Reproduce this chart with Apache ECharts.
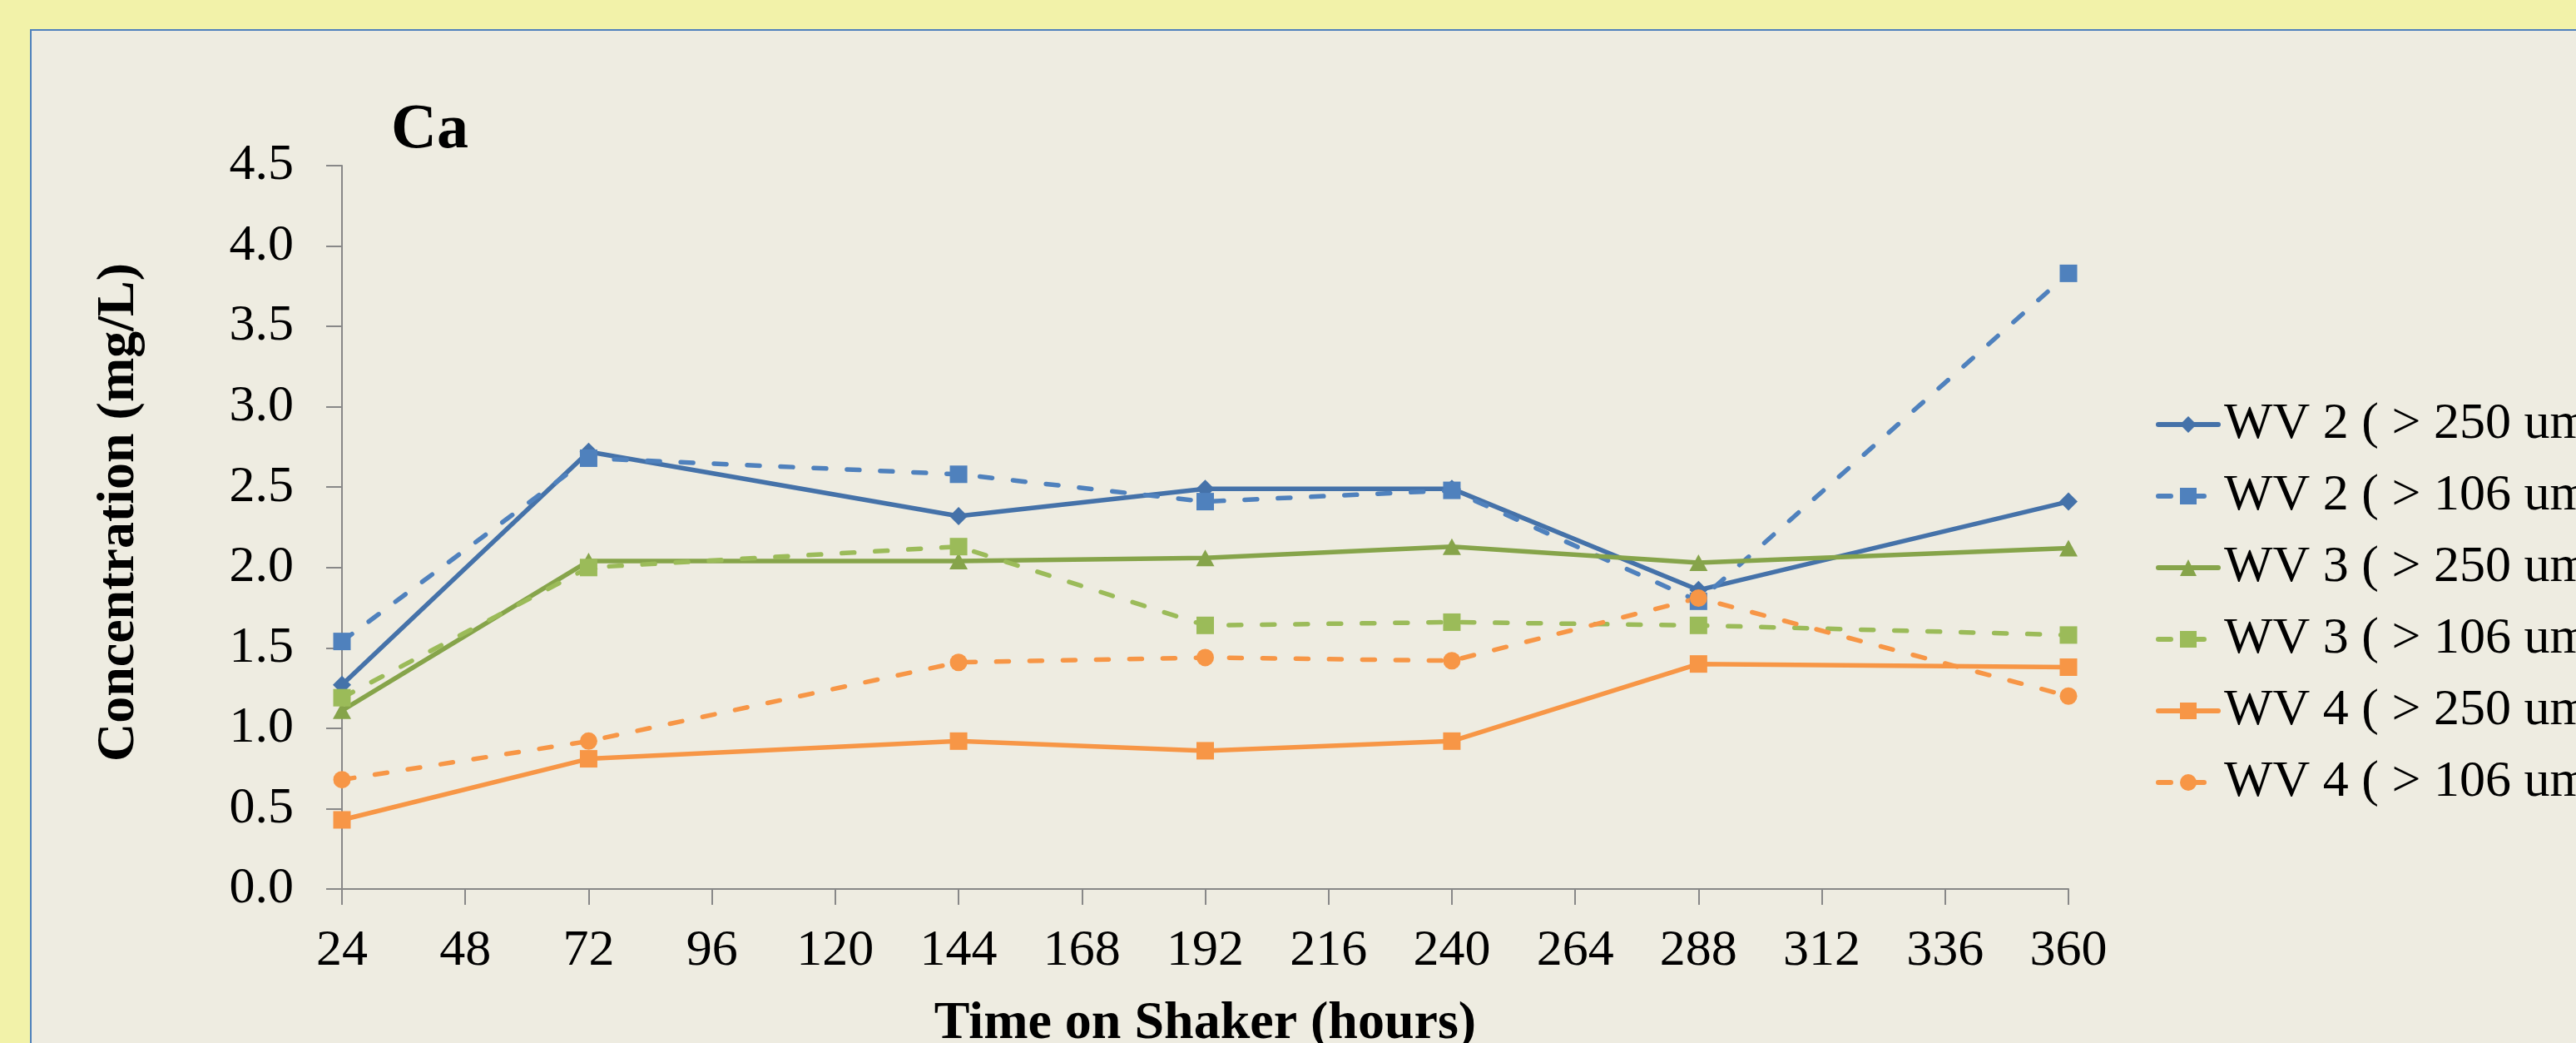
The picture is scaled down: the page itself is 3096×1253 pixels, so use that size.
<!DOCTYPE html>
<html>
<head>
<meta charset="utf-8">
<script src="https://cdn.jsdelivr.net/npm/echarts@6/dist/echarts.min.js"></script>
<style>
  html, body { margin: 0; padding: 0; background: #F2F2A9; }
  #chart { width: 3096px; height: 1253px; }
</style>
</head>
<body>
<div id="chart"></div>
<script>
  // hours on shaker
  var hours = [24, 72, 144, 192, 240, 288, 360]
  var seriesNames = [
    'WV 2 ( > 250 um)',
    'WV 2 ( > 106 um)',
    'WV 3 ( > 250 um)',
    'WV 3 ( > 106 um)',
    'WV 4 ( > 250 um)',
    'WV 4 ( > 106 um)'
  ]
  // Ca concentration (mg/L)
  var wv2_250 = [1.27, 2.72, 2.32, 2.49, 2.49, 1.86, 2.41]
  var wv2_106 = [1.54, 2.68, 2.58, 2.41, 2.48, 1.79, 3.83]
  var wv3_250 = [1.11, 2.04, 2.04, 2.06, 2.13, 2.03, 2.12]
  var wv3_106 = [1.19, 2.00, 2.13, 1.64, 1.66, 1.64, 1.58]
  var wv4_250 = [0.43, 0.81, 0.92, 0.86, 0.92, 1.40, 1.38]
  var wv4_106 = [0.68, 0.92, 1.41, 1.44, 1.42, 1.81, 1.20]

  var font = 'Liberation Serif, Times New Roman, serif'

  function pairs(vals) {
    return hours.map(function (h, i) { return [h, vals[i]] })
  }

  function makeSeries(name, vals, color, symbol, dashed) {
    return {
      name: name,
      type: 'line',
      data: pairs(vals),
      symbol: symbol,
      symbolSize: symbol === 'triangle' ? [22, 20] : (symbol === 'diamond' ? 22 : 21),
      itemStyle: { color: color },
      lineStyle: {
        color: color,
        width: 5.5,
        type: dashed ? [15, 25] : 'solid',
        cap: 'round'
      },
      emphasis: { disabled: true }
    }
  }

  var myChart = echarts.init(document.getElementById('chart'))
  var option = {
    backgroundColor: '#F2F2A9',
    animation: false,
    graphic: [{
      type: 'rect',
      z: -10,
      shape: { x: 37, y: 36, width: 3100, height: 1260 },
      style: { fill: '#EEECE1', stroke: '#4F81BD', lineWidth: 2 }
    }],
    title: {
      text: 'Ca',
      left: 465,
      top: 114,
      textStyle: { fontFamily: font, fontSize: 76, fontWeight: 'bold', color: '#000' }
    },
    legend: {
      orient: 'vertical',
      left: 2586,
      top: 474,
      itemWidth: 72,
      itemHeight: 25,
      itemGap: 24,
      data: seriesNames,
      lineStyle: { width: 6, cap: 'round' },
      textStyle: { fontFamily: font, fontSize: 62, color: '#000', padding: [0, 0, 0, 2] }
    },
    grid: {
      left: 411, right: 610, top: 199, bottom: 185,
      containLabel: false,
      outerBoundsMode: 'none'
    },
    xAxis: {
      type: 'value',
      min: 24,
      max: 360,
      interval: 24,
      name: 'Time on Shaker (hours)',
      nameLocation: 'middle',
      nameGap: 130,
      nameTextStyle: { fontFamily: font, fontSize: 64, fontWeight: 'bold', color: '#000' },
      axisLine: { lineStyle: { color: '#888', width: 2 } },
      axisTick: { show: true, length: 19, lineStyle: { color: '#888', width: 2 } },
      axisLabel: { fontFamily: font, fontSize: 62, color: '#000', margin: 44 },
      splitLine: { show: false }
    },
    yAxis: {
      type: 'value',
      min: 0,
      max: 4.5,
      interval: 0.5,
      name: 'Concentration (mg/L)',
      nameLocation: 'middle',
      nameGap: 236,
      nameTextStyle: {
        fontFamily: font, fontSize: 64, fontWeight: 'bold', color: '#000',
        padding: [0, 0, 0, 36]
      },
      axisLine: { show: true, lineStyle: { color: '#888', width: 2 } },
      axisTick: { show: true, length: 19, lineStyle: { color: '#888', width: 2 } },
      axisLabel: {
        fontFamily: font, fontSize: 62, color: '#000', margin: 58,
        formatter: function (v) { return v.toFixed(1) }
      },
      splitLine: { show: false }
    },
    series: [
      makeSeries(seriesNames[0], wv2_250, '#4572A9', 'diamond', false),
      makeSeries(seriesNames[1], wv2_106, '#4F81BD', 'rect', true),
      makeSeries(seriesNames[2], wv3_250, '#86A44A', 'triangle', false),
      makeSeries(seriesNames[3], wv3_106, '#9BBB59', 'rect', true),
      makeSeries(seriesNames[4], wv4_250, '#F79646', 'rect', false),
      makeSeries(seriesNames[5], wv4_106, '#F79646', 'circle', true)
    ]
  }
  option && myChart.setOption(option)
  window.addEventListener('resize', function () {
    myChart.resize()
  })
</script>
</body>
</html>
